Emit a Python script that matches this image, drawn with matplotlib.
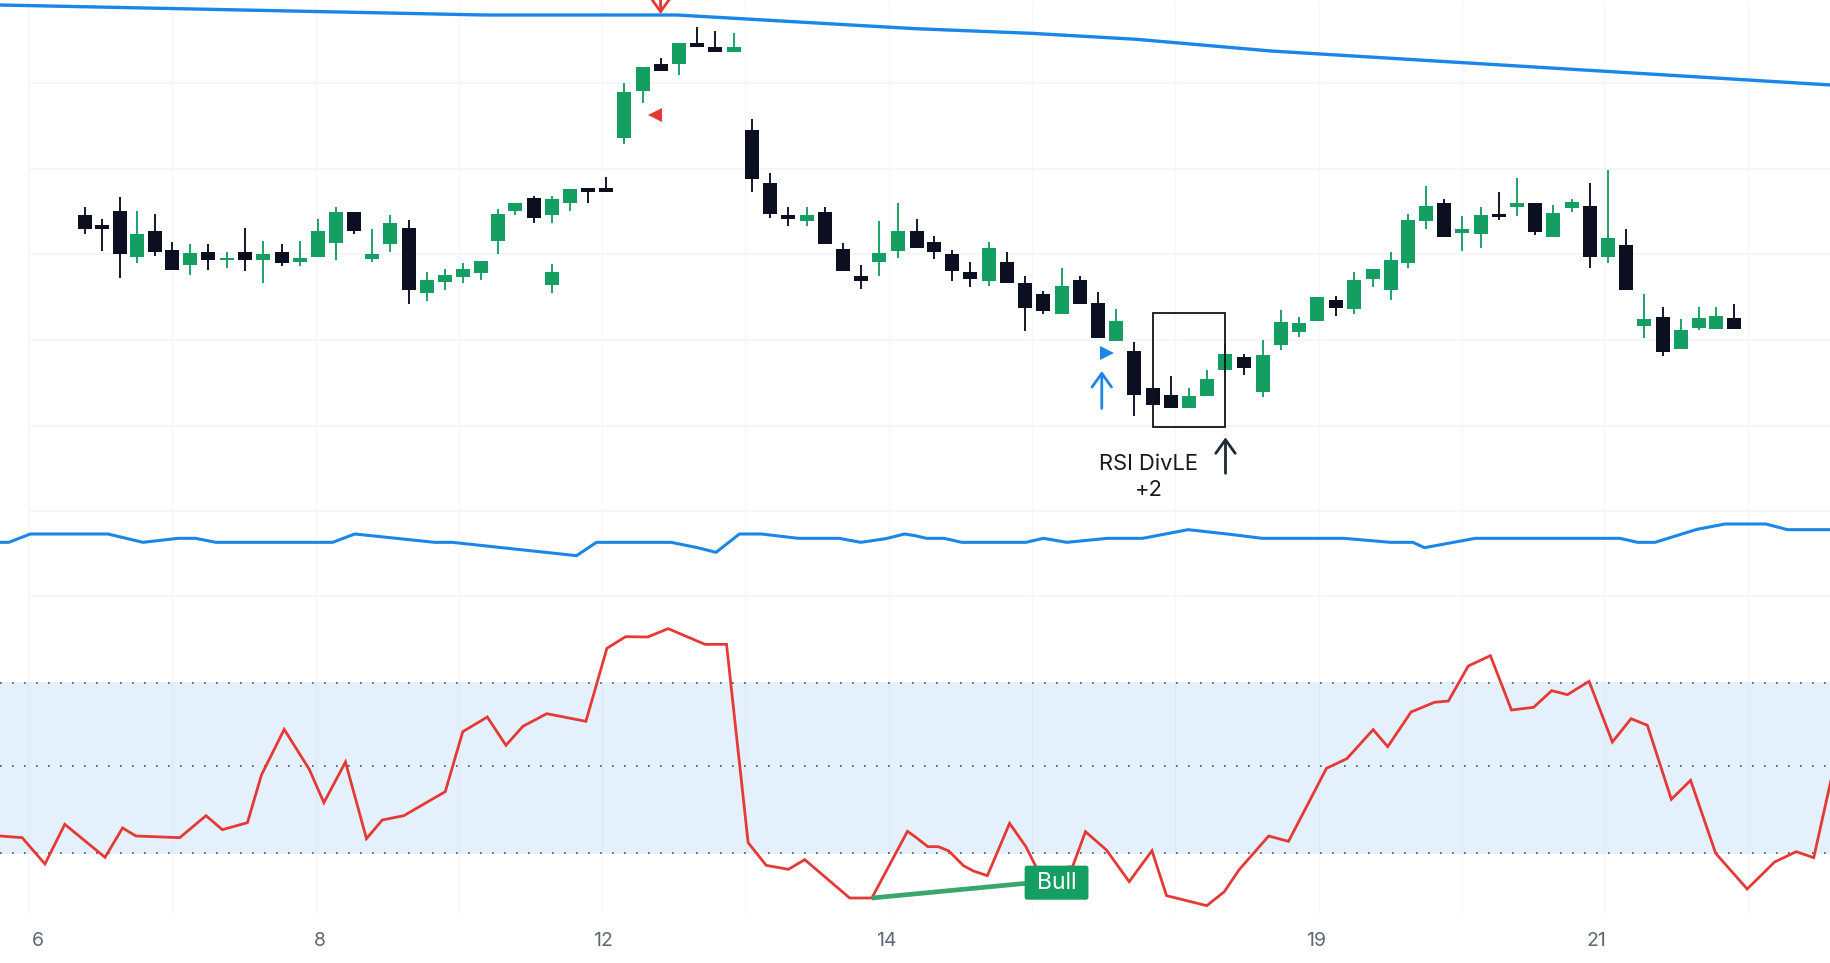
import matplotlib
matplotlib.use("Agg")
import matplotlib.pyplot as plt
from matplotlib.patches import Rectangle, FancyBboxPatch

# --- data (x = position along the time axis) ---
candle_x = [146,175,205,235,265,295,326,357,389,420,451,483,514,545,576,607,638,669,701,732,763,794,825,853,883,915,946,946,977,1008,1039,
            1070,1101,1133,1164,1195,1226,1258,1289,1320,1351,1383,1414,1445,1476,1507,1538,1571,1601,1632,1663,1695,1726,1756,1788,1819,1850,
            1881,1912,1944,1975,2006,2037,2069,2100,2131,2164,2195,2226,2257,2289,2320,2352,2383,2413,2444,2475,2506,2537,2568,2599,2630,2662,
            2693,2724,2755,2786,2818,2849,2880,2911,2941,2972]
wick_high = [878,842,909,866,858,773,769,769,743,815,776,769,776,842,878,865,814,854,840,685,692,712,718,872,890,913,913,708,932,937,970,
             1252,1299,1326,1372,1420,1406,1400,1142,982,880,878,879,772,704,836,890,842,791,750,714,775,743,672,627,695,671,
             625,573,475,336,371,336,390,470,437,480,570,550,608,612,683,694,745,857,941,902,852,878,923,966,891,884,
             902,952,990,813,617,578,543,578,578,589]
body_top = [856,824,866,797,806,750,740,745,727,745,739,745,725,808,865,865,737,832,816,660,674,693,718,857,890,906,904,685,932,937,937,
            1223,1299,1308,1372,1372,1358,1358,1110,951,854,854,863,752,671,742,806,806,774,737,684,755,714,650,617,642,660,
            591,536,448,336,314,312,362,439,429,434,534,531,608,599,660,694,720,840,883,891,813,855,857,891,891,862,
            894,883,787,764,543,549,510,546,553,546]
body_bottom = [812,812,739,730,745,689,704,720,721,721,721,710,714,728,771,806,722,767,631,620,655,668,680,778,868,846,856,644,892,924,924,
               1087,1228,1286,1309,1358,1345,1345,962,859,844,837,767,686,658,715,748,756,744,686,663,658,651,575,567,557,587,
               485,477,316,286,276,276,311,389,395,323,465,505,537,575,572,664,631,711,837,789,800,799,848,879,804,790,
               877,729,730,630,523,445,454,515,512,512]
wick_low = [798,748,667,710,732,689,675,689,696,686,652,703,703,728,719,799,714,744,587,598,631,652,659,738,856,831,831,621,868,891,924,
            1069,1191,1286,1276,1358,1345,1345,925,845,823,823,767,686,633,673,727,756,723,658,640,641,651,507,557,557,587,
            485,477,253,286,276,276,311,380,376,310,449,488,537,552,557,639,601,695,814,789,747,757,840,853,795,790,
            863,695,711,630,487,433,454,511,512,512]
candle_up = [0,0,0,1,0,0,1,0,1,0,1,0,1,1,1,0,1,1,0,1,1,1,1,1,1,0,1,1,1,0,0,
             1,1,0,1,0,0,1,0,0,0,1,0,0,0,1,1,0,0,0,0,1,0,0,0,1,0,
             0,1,0,0,0,1,1,1,0,1,1,1,1,0,1,1,1,1,1,0,1,1,0,1,0,1,
             1,0,1,0,1,0,1,1,1,0]

trend_x = [0,830,1160,1568,1768,1948,2178,3137]
trend_values = [1485,1455,1455,1414,1400,1382,1347,1245]

upper_x = [0,15,52,185,245,305,335,370,570,608,745,775,988,1022,1150,1195,1227,1267,1305,1368,1438,1475,1518,1550,1568,1588,1618,1648,1758,
           1788,1828,1898,1958,2036,2108,2163,2303,2383,2421,2441,2528,2776,2806,2836,2908,2956,3026,3063,3137]
upper_values = [73,73,98,98,73,85,85,73,73,98,73,73,33,73,73,57,43,98,98,85,85,73,84,98,93,85,85,73,73,
                85,73,85,85,111,97,85,85,73,73,57,85,85,73,73,112,128,128,111,111]

rsi_x = [0,38,77,111,180,210,233,308,353,381,424,448,487,530,555,592,628,655,692,763,793,835,867,896,937,1004,1040,1072,1110,1145,1208,1245,1282,
         1313,1351,1379,1456,1494,1555,1568,1590,1608,1626,1651,1668,1692,1730,1758,1778,1838,1860,1896,1935,1974,1999,2068,2098,2123,2174,2208,
         2273,2308,2353,2378,2418,2458,2482,2516,2554,2590,2628,2659,2686,2723,2763,2795,2823,2864,2897,2940,2994,3041,3078,3108,3137]
rsi_values = [292,287,208,327,228,316,292,287,353,311,332,475,612,492,392,514,284,340,353,425,605,649,564,621,659,636,855,890,889,914,867,867,272,
              204,192,221,106,106,306,290,260,260,247,203,187,173,330,260,190,200,305,250,155,248,113,83,125,190,292,276,
              495,524,611,560,664,693,697,802,833,670,678,728,716,756,574,644,624,402,459,240,133,214,245,227,455]
rsi_levels = [751,502,241]
rsi_band = [238,753]
bull_x = [1494,1758]
bull_values = [106,150]

grid_x = [48,295,541,787,1032,1277,1523,1768,2014,2260,2505,2749,2995]
grid_y = [1250,992,737,480,223,-32,-288]
tick_x = [65,548,1034,1518,2255,2736]
tick_labels = ["6","8","12","14","19","21"]

GREEN, BLACK, BLUE, RED = "#159e62", "#0b0f20", "#1a86e8", "#e53935"
plt.rcParams["font.family"] = ["Inter", "DejaVu Sans"]
fig = plt.figure(figsize=(18.31, 9.63), dpi=100, facecolor="white")
pos = [0, 50 / 963, 1, 913 / 963]
XLIM = (0, 3137.6)
ax_rsi = fig.add_axes(pos)
ax_upper = fig.add_axes(pos, sharex=ax_rsi)
ax = fig.add_axes(pos, sharex=ax_rsi)
for a in (ax_rsi, ax_upper, ax):
    a.set_facecolor("none")
    for s in a.spines.values():
        s.set_visible(False)
    a.tick_params(left=False, labelleft=False, bottom=False, labelbottom=False)
ax_rsi.set_xlim(*XLIM)
ax_rsi.set_ylim(61, 2800)
ax_upper.set_ylim(-1039, 1700)
ax.set_ylim(-1239, 1500)

# grid
ax_rsi.vlines(grid_x, 0, 1, transform=ax_rsi.get_xaxis_transform(), color="#f6f7f9", lw=1.0, zorder=0)
ax_rsi.hlines([v + 1300 for v in grid_y], grid_x[0], XLIM[1], color="#f5f6f8", lw=1.5, zorder=0)

# RSI pane
ax_rsi.axhspan(rsi_band[0], rsi_band[1], color=BLUE, alpha=0.115, lw=0, zorder=1)
ax_rsi.hlines(rsi_levels, 0, XLIM[1], color="#4a545e", lw=1.2, linestyles=(0, (1, 6.2)), zorder=2)
ax_rsi.plot(rsi_x, rsi_values, color=RED, lw=2.0, zorder=3, solid_joinstyle="miter")
ax_rsi.plot(bull_x, bull_values, color="#3aa66b", lw=3.4, zorder=4, solid_capstyle="butt")
ax_rsi.add_patch(FancyBboxPatch((1757, 103), 107, 98, boxstyle="round,pad=0,rounding_size=3",
                                mutation_aspect=1.75, fc=GREEN, ec=GREEN, lw=1, zorder=5))
ax_rsi.text(1810, 150, "Bull", color="white", fontsize=16.5, ha="center", va="center", zorder=6)
ax_rsi.set_xticks(tick_x)
ax_rsi.set_xticklabels(tick_labels)
ax_rsi.tick_params(bottom=False, labelbottom=True, pad=14, labelsize=14, labelcolor="#5f6873", length=0)

# upper indicator
ax_upper.plot(upper_x, upper_values, color=BLUE, lw=2.2)

# price pane
ax.plot(trend_x, trend_values, color=BLUE, lw=2.4)
for x, hi, top, bot, lo, up in zip(candle_x, wick_high, body_top, body_bottom, wick_low, candle_up):
    c = GREEN if up else BLACK
    ax.vlines(x, lo, hi, color=c, lw=1.35, zorder=3)
ax.bar(candle_x, [t - b for t, b in zip(body_top, body_bottom)], bottom=body_bottom, width=24,
       color=[GREEN if u else BLACK for u in candle_up], linewidth=0, zorder=4)

ax.add_patch(Rectangle((1975, 218), 124, 343, fill=False, ec="#111418", lw=1.3, zorder=5))
ax.plot([1122], [1155], marker="<", color=RED, ms=10, mew=0, ls="none", zorder=6)
ax.plot([1897], [441], marker=">", color=BLUE, ms=10, mew=0, ls="none", zorder=6)


def arrow(x, tail, tip, color):
    ax.annotate("", xy=(x, tip), xytext=(x, tail), annotation_clip=False,
                arrowprops=dict(arrowstyle="->,head_length=0.7,head_width=0.5", color=color, lw=2.0,
                                shrinkA=0, shrinkB=0, mutation_scale=14), zorder=6)


arrow(1132, 1505, 1458, RED)
arrow(1888, 275, 387, BLUE)
arrow(2100, 80, 188, "#1c2b33")
ax.text(1968, 108, "RSI DivLE", fontsize=15.8, color="#14181f", ha="center", va="center")
ax.text(1968, 30, "+2", fontsize=15.8, color="#14181f", ha="center", va="center")

fig.savefig("out.png", dpi=100)
